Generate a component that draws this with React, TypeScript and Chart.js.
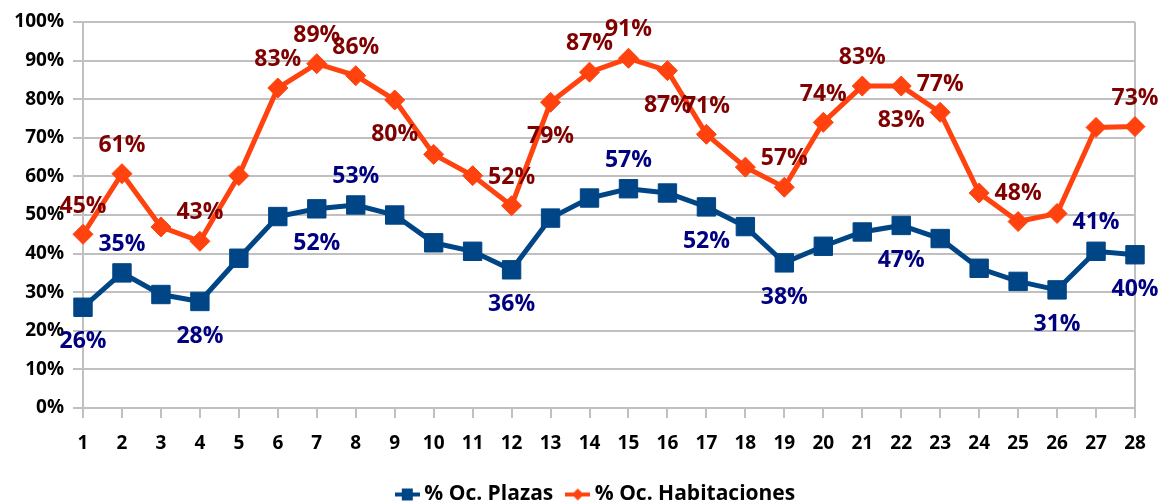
import React, { useEffect, useRef } from 'react';
import { Chart, registerables } from 'chart.js';

Chart.register(...registerables);

const categories = ['1', '2', '3', '4', '5', '6', '7', '8', '9', '10', '11', '12', '13', '14', '15', '16', '17', '18', '19', '20', '21', '22', '23', '24', '25', '26', '27', '28'];

const plazas = [26.1, 35.0, 29.4, 27.6, 38.8, 49.6, 51.6, 52.6, 50.0, 42.8, 40.6, 35.8, 49.2, 54.4, 56.8, 55.7, 52.1, 47.0, 37.6, 41.9, 45.6, 47.3, 43.9, 36.2, 32.8, 30.6, 40.6, 39.7];

const habitaciones = [45.0, 60.7, 46.9, 43.2, 60.2, 82.9, 89.2, 86.1, 79.8, 65.7, 60.2, 52.4, 79.2, 87.0, 90.6, 87.4, 70.9, 62.4, 57.2, 74.0, 83.4, 83.4, 76.6, 55.7, 48.3, 50.4, 72.7, 72.9];

const yTicks = [0, 10, 20, 30, 40, 50, 60, 70, 80, 90, 100];

const seriesNames = ['% Oc. Plazas', '% Oc. Habitaciones'];

// which points carry a value label: 'a' above, 'b' below, '' none
const plazasLabels = ['b', 'a', '', 'b', '', '', 'b', 'a', '', '', '', 'b', '', '', 'a', '', 'b', '', 'b', '', '', 'b', '', '', '', 'b', 'a', 'b'];
const habitacionesLabels = ['a', 'a', '', 'a', '', 'a', 'a', 'a', 'b', '', '', 'a', 'b', 'a', 'a', 'b', 'a', '', 'a', 'a', 'a', 'b', 'a', '', 'a', '', '', 'a'];

const BLUE = '#004586';
const ORANGE = '#ff420e';
const BLUE_LABEL = '#000080';
const ORANGE_LABEL = '#800000';
const GRID = '#c0c0c0';
const FONT = '"Open Sans", "DejaVu Sans", sans-serif';
const LEGEND_SHIFT = 25;

function makeLegendIcon(color: string, kind: 'square' | 'diamond'): HTMLCanvasElement {
  const c = document.createElement('canvas');
  c.width = 25;
  c.height = 14;
  const g = c.getContext('2d')!;
  g.strokeStyle = color;
  g.lineWidth = 4;
  g.beginPath();
  g.moveTo(0, 7);
  g.lineTo(25, 7);
  g.stroke();
  g.fillStyle = color;
  if (kind === 'square') {
    g.fillRect(7, 1, 11, 12);
  } else {
    g.beginPath();
    g.moveTo(12.5, 1);
    g.lineTo(18.5, 7);
    g.lineTo(12.5, 13);
    g.lineTo(6.5, 7);
    g.closePath();
    g.fill();
  }
  return c;
}

const labelPlugin = {
  id: 'valueLabels',
  afterLayout(chart: any) {
    if (chart.legend) {
      chart.legend.left += LEGEND_SHIFT;
      chart.legend.right += LEGEND_SHIFT;
    }
  },
  afterDatasetsDraw(chart: any) {
    const ctx = chart.ctx;
    const positions = [plazasLabels, habitacionesLabels];
    const colors = [BLUE_LABEL, ORANGE_LABEL];
    ctx.save();
    ctx.font = 'bold 23px ' + FONT;
    ctx.textAlign = 'center';
    ctx.textBaseline = 'alphabetic';
    chart.data.datasets.forEach((ds: any, di: number) => {
      const meta = chart.getDatasetMeta(di);
      meta.data.forEach((el: any, i: number) => {
        const p = positions[di][i];
        if (!p) return;
        const cy = p === 'a' ? el.y - 30 : el.y + 33;
        ctx.fillStyle = colors[di];
        ctx.fillText(Math.round(ds.data[i]) + '%', el.x, cy + 8.2);
      });
    });
    ctx.restore();
  },
};

export default function App() {
  const ref = useRef<HTMLCanvasElement | null>(null);

  useEffect(() => {
    if (!ref.current) return;
    const icons = [makeLegendIcon(BLUE, 'square'), makeLegendIcon(ORANGE, 'diamond')];
    const chart = new Chart(ref.current, {
      type: 'line',
      data: {
        labels: categories,
        datasets: [
          {
            label: seriesNames[0],
            data: plazas,
            borderColor: BLUE,
            backgroundColor: BLUE,
            borderWidth: 5,
            pointStyle: 'rect',
            pointRadius: 13,
            pointBorderWidth: 1,
            pointBackgroundColor: BLUE,
            pointBorderColor: BLUE,
            tension: 0,
          },
          {
            label: seriesNames[1],
            data: habitaciones,
            borderColor: ORANGE,
            backgroundColor: ORANGE,
            borderWidth: 5,
            pointStyle: 'rectRot',
            pointRadius: 10,
            pointBorderWidth: 1,
            pointBackgroundColor: ORANGE,
            pointBorderColor: ORANGE,
            tension: 0,
          },
        ],
      },
      options: {
        responsive: false,
        animation: false,
        layout: { padding: { top: 22, left: 11, right: 25, bottom: 0 } },
        scales: {
          x: {
            type: 'category',
            offset: false,
            afterFit: (s: any) => { s.height = 58; },
            grid: {
              color: (c: any) => (c.index === categories.length - 1 ? GRID : 'rgba(0,0,0,0)'),
              lineWidth: 2,
              tickColor: GRID,
              tickLength: 10,
              drawOnChartArea: true,
            },
            border: { color: GRID, width: 2 },
            ticks: {
              color: '#000000',
              font: { family: FONT, size: 19, weight: 'bold' },
              padding: 14,
              autoSkip: false,
              maxRotation: 0,
            },
          },
          y: {
            min: 0,
            max: 100,
            afterFit: (s: any) => { s.width = 72; },
            afterBuildTicks: (s: any) => { s.ticks = yTicks.map((v) => ({ value: v })); },
            grid: { color: GRID, lineWidth: 2, tickColor: GRID, tickLength: 10 },
            border: { color: GRID, width: 2 },
            ticks: {
              color: '#000000',
              font: { family: FONT, size: 19, weight: 'bold' },
              padding: 9,
              callback: (v: any) => v + '%',
            },
          },
        },
        plugins: {
          legend: {
            position: 'bottom',
            labels: {
              usePointStyle: true,
              pointStyleWidth: 13,
              padding: 18,
              color: '#000000',
              font: { family: FONT, size: 21, weight: 'bold' },
              generateLabels: (ch: any) => {
                const items = Chart.defaults.plugins.legend.labels.generateLabels(ch);
                return items.map((it: any, i: number) => ({ ...it, pointStyle: icons[i] }));
              },
            },
          },
          tooltip: { enabled: false },
        },
      },
      plugins: [labelPlugin],
    });
    return () => chart.destroy();
  }, []);

  return (
    <div style={{ position: 'fixed', left: 0, top: 0, width: 1160, height: 504, overflow: 'hidden', background: '#ffffff' }}>
      <canvas ref={ref} width={1160} height={515} style={{ display: 'block', width: 1160, height: 515 }} />
    </div>
  );
}
